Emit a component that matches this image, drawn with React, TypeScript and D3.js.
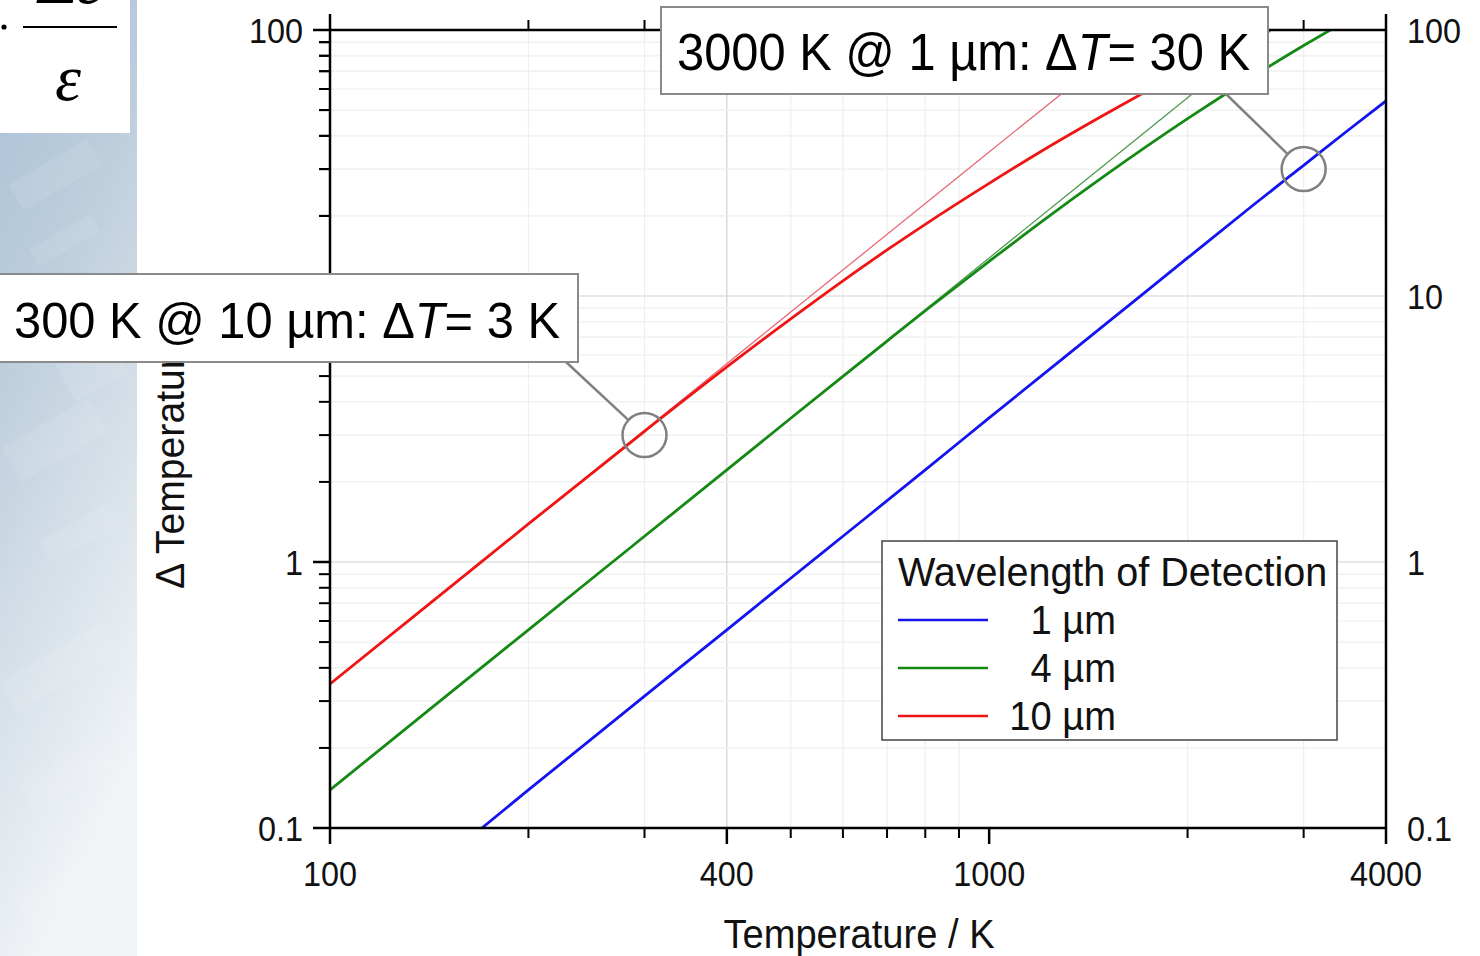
import React from "react";
import * as d3 from "d3";

// ---- data ----
const blueT = [170, 200, 300, 400, 500, 600, 800, 1000, 1500, 2000, 2500, 3000, 3500, 4000];
const blueDT = [0.1, 0.139, 0.313, 0.556, 0.869, 1.25, 2.22, 3.48, 7.82, 13.9, 21.7, 31.0, 41.9, 54.1];

const greenT = [100, 150, 200, 300, 400, 500, 600, 700, 800, 1000, 1200, 1500, 2000, 2500, 3000, 3500];
const greenDT = [0.139, 0.313, 0.556, 1.25, 2.22, 3.47, 4.99, 6.77, 8.8, 13.5, 19.0, 28.4, 46.4, 66.3, 87.4, 109];

const redT = [100, 150, 200, 300, 400, 500, 600, 700, 800, 1000, 1200, 1500, 2000, 2500, 2700];
const redDT = [0.348, 0.782, 1.39, 3.1, 5.41, 8.2, 11.4, 14.9, 18.6, 26.5, 35.0, 48.2, 71.3, 95.0, 105];

const redThinT = [100, 300, 1000, 1750];
const redThinDT = [0.348, 3.13, 34.8, 106];
const greenThinT = [100, 300, 1000, 2000, 2800];
const greenThinDT = [0.139, 1.25, 13.9, 55.6, 109];

const xTickMajor = [100, 400, 1000, 4000];
const xTickMinor = [200, 300, 500, 600, 700, 800, 900, 2000, 3000];
const yTickMajor = [0.1, 1, 10, 100];
const yTickLabels = ["0.1", "1", "10", "100"];

const legendTitle = "Wavelength of Detection";
const legendLabels = ["1 µm", "4 µm", "10 µm"];
const seriesColors = ["#1414f0", "#148a14", "#f01414"];

const annot1Point = [300, 3];
const annot2Point = [3000, 30];

// ---- layout ----
const W = 1480, H = 956;
const x = d3.scaleLog().domain([100, 4000]).range([330, 1386]);
const y = d3.scaleLog().domain([0.1, 100]).range([828, 30]);
const FONT = "'Liberation Sans', Arial, sans-serif";

function Txt({ x: tx, y: ty, size, sx = 0.9, anchor = "start", children, fill = "#111", rotate = 0 }: any) {
  return (
    <text
      transform={`translate(${tx},${ty}) rotate(${rotate}) scale(${sx},1)`}
      fontSize={size}
      fontFamily={FONT}
      textAnchor={anchor}
      fill={fill}
    >
      {children}
    </text>
  );
}

function pathOf(ts: number[], vs: number[]) {
  const line = d3
    .line<number>()
    .x((_, i) => x(ts[i]))
    .y((v) => y(v))
    .curve(d3.curveMonotoneX);
  return line(vs) || "";
}

export default function App() {
  const minorX: number[] = [];
  for (const dec of [100, 1000]) for (let k = 2; k <= 9; k++) if (dec * k <= 4000) minorX.push(dec * k);
  const minorY: number[] = [];
  for (const dec of [0.1, 1, 10]) for (let k = 2; k <= 9; k++) minorY.push(dec * k);

  const textures = [
    [10, 160, 90, 30], [30, 230, 70, 20], [5, 420, 100, 40], [40, 520, 80, 25], [0, 650, 120, 35],
    [20, 760, 90, 30], [60, 340, 60, 50], [15, 870, 100, 30],
  ];

  return (
    <svg width={W} height={H} style={{ position: "absolute", left: 0, top: 0, background: "#fff" }}>
      <defs>
        <linearGradient id="bg" x1="0" y1="0" x2="0.3" y2="1">
          <stop offset="0" stopColor="#a9c1d6" />
          <stop offset="0.35" stopColor="#bccddc" />
          <stop offset="0.7" stopColor="#d9e2ea" />
          <stop offset="1" stopColor="#f1f4f7" />
        </linearGradient>
        <clipPath id="plot">
          <rect x={330} y={30} width={1056} height={798} />
        </clipPath>
      </defs>

      {/* left background strip */}
      <rect x={0} y={0} width={137} height={H} fill="url(#bg)" />
      {textures.map((r, i) => (
        <rect key={i} x={r[0]} y={r[1]} width={r[2]} height={r[3]} fill="#ffffff" opacity={0.09} transform={`rotate(-30 ${r[0] + r[2] / 2} ${r[1] + r[3] / 2})`} />
      ))}

      {/* formula fragment box */}
      <rect x={0} y={0} width={130} height={133} fill="#fff" />
      <circle cx={4} cy={27} r={2.6} fill="#000" />
      <line x1={23} x2={117} y1={27} y2={27} stroke="#000" strokeWidth={2} />
      <text x={70} y={3} fontSize={64} fontFamily="'Liberation Serif', serif" fontStyle="italic" textAnchor="middle" fill="#000">Δε</text>
      <text x={68} y={100} fontSize={66} fontFamily="'Liberation Serif', serif" fontStyle="italic" textAnchor="middle" fill="#000">ε</text>

      {/* grid */}
      {minorX.map((v) => (
        <line key={"gx" + v} x1={x(v)} x2={x(v)} y1={30} y2={828} stroke={[400, 1000].includes(v) ? "#d2d2d2" : "#eeeeee"} strokeWidth={1.2} />
      ))}
      {minorY.map((v) => (
        <line key={"gy" + v} x1={330} x2={1386} y1={y(v)} y2={y(v)} stroke="#eeeeee" strokeWidth={1.2} />
      ))}
      {[1, 10].map((v) => (
        <line key={"gm" + v} x1={330} x2={1386} y1={y(v)} y2={y(v)} stroke="#d2d2d2" strokeWidth={1.2} />
      ))}

      {/* curves */}
      <g clipPath="url(#plot)" fill="none" strokeLinecap="round">
        <path d={pathOf(redThinT, redThinDT)} stroke="#e86a78" strokeWidth={1.3} />
        <path d={pathOf(greenThinT, greenThinDT)} stroke="#4f9a4f" strokeWidth={1.3} />
        <path d={pathOf(blueT, blueDT)} stroke={seriesColors[0]} strokeWidth={2.8} />
        <path d={pathOf(greenT, greenDT)} stroke={seriesColors[1]} strokeWidth={2.8} />
        <path d={pathOf(redT, redDT)} stroke={seriesColors[2]} strokeWidth={2.8} />
      </g>

      {/* axes frame */}
      <g stroke="#000" strokeWidth={2.5} fill="none">
        <line x1={330} x2={1386} y1={30} y2={30} />
        <line x1={330} x2={1386} y1={828} y2={828} />
        <line x1={330} x2={330} y1={30} y2={828} />
        <line x1={1386} x2={1386} y1={30} y2={828} />
        {xTickMajor.map((v) => (
          <g key={"xM" + v}>
            <line x1={x(v)} x2={x(v)} y1={828} y2={844} />
            <line x1={x(v)} x2={x(v)} y1={30} y2={14} />
          </g>
        ))}
        {xTickMinor.map((v) => (
          <g key={"xm" + v}>
            <line x1={x(v)} x2={x(v)} y1={828} y2={838} strokeWidth={2} />
            <line x1={x(v)} x2={x(v)} y1={30} y2={20} strokeWidth={2} />
          </g>
        ))}
        {yTickMajor.map((v) => (
          <line key={"yM" + v} x1={313} x2={330} y1={y(v)} y2={y(v)} />
        ))}
        {minorY.concat([20, 30, 40, 50, 60, 70, 80, 90]).map((v) => (
          <line key={"ym" + v} x1={319} x2={330} y1={y(v)} y2={y(v)} strokeWidth={2} />
        ))}
      </g>

      {/* tick labels */}
      {xTickMajor.map((v) => (
        <Txt key={"xl" + v} x={x(v)} y={886} size={36} anchor="middle">{String(v)}</Txt>
      ))}
      {yTickMajor.map((v, i) => (
        <Txt key={"yl" + v} x={303} y={y(v) + 13} size={36} anchor="end">{yTickLabels[i]}</Txt>
      ))}
      {yTickMajor.map((v, i) => (
        <Txt key={"yr" + v} x={1407} y={y(v) + 13} size={36} anchor="start">{yTickLabels[i]}</Txt>
      ))}

      {/* axis titles */}
      <Txt x={859} y={948} size={41} anchor="middle" sx={0.93}>Temperature / K</Txt>
      <Txt x={184} y={589} size={41} anchor="start" sx={0.955} rotate={-90}>Δ Temperature / K</Txt>

      {/* legend */}
      <rect x={882} y={541} width={455} height={199} fill="#fff" stroke="#444" strokeWidth={1.5} />
      <Txt x={898} y={586} size={41} sx={0.965}>{legendTitle}</Txt>
      {legendLabels.map((lab, i) => (
        <g key={lab}>
          <line x1={898} x2={988} y1={620 + i * 48} y2={620 + i * 48} stroke={seriesColors[i]} strokeWidth={2.6} />
          <Txt x={1116} y={634 + i * 48} size={41} anchor="end" sx={0.93}>{lab}</Txt>
        </g>
      ))}

      {/* annotation 1 */}
      <line x1={566} y1={362} x2={x(annot1Point[0]) - 16} y2={y(annot1Point[1]) - 15} stroke="#808080" strokeWidth={2.5} />
      <circle cx={x(annot1Point[0])} cy={y(annot1Point[1])} r={22} fill="none" stroke="#808080" strokeWidth={2.5} />
      <rect x={-2} y={274} width={580} height={88} fill="#fff" stroke="#8a8a8a" strokeWidth={2} />
      <text x={14} y={338} fontSize={50} fontFamily={FONT} fill="#000" textLength={546} lengthAdjust="spacingAndGlyphs">
        300 K @ 10 µm: Δ<tspan fontStyle="italic">T</tspan>= 3 K
      </text>

      {/* annotation 2 */}
      <line x1={1226} y1={94} x2={x(annot2Point[0]) - 16} y2={y(annot2Point[1]) - 15} stroke="#808080" strokeWidth={2.5} />
      <circle cx={x(annot2Point[0])} cy={y(annot2Point[1])} r={22} fill="none" stroke="#808080" strokeWidth={2.5} />
      <rect x={661} y={7} width={607} height={87} fill="#fff" stroke="#8a8a8a" strokeWidth={2} />
      <text x={677} y={70} fontSize={51} fontFamily={FONT} fill="#000" textLength={573} lengthAdjust="spacingAndGlyphs">
        3000 K @ 1 µm: Δ<tspan fontStyle="italic">T</tspan>= 30 K
      </text>
    </svg>
  );
}
